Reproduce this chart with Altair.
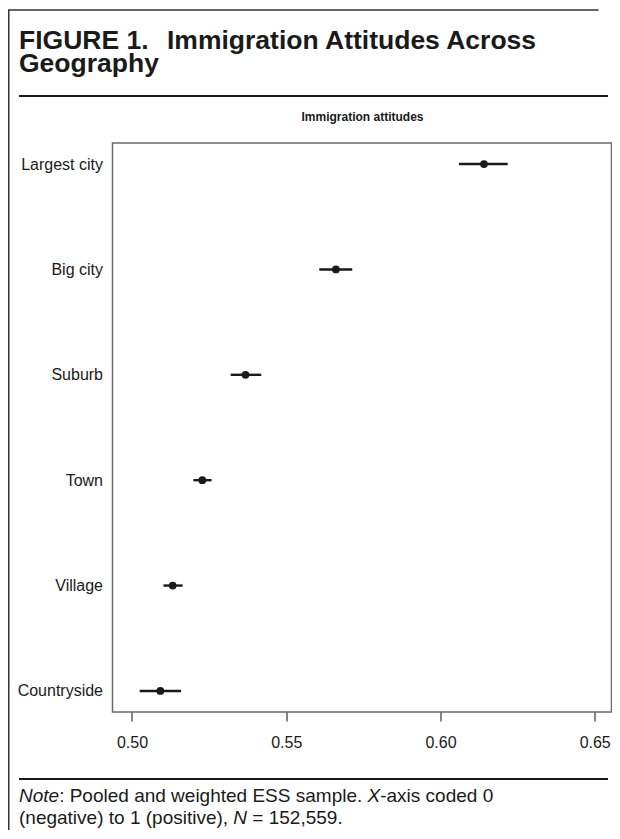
import altair as alt
import pandas as pd

# ---- data ----
categories = ["Largest city", "Big city", "Suburb", "Town", "Village", "Countryside"]
estimate = [0.6141, 0.5661, 0.5368, 0.5228, 0.5132, 0.5092]
ci_low = [0.6060, 0.5607, 0.5320, 0.5199, 0.5102, 0.5025]
ci_high = [0.6218, 0.5714, 0.5419, 0.5258, 0.5164, 0.5159]
x_ticks = [0.50, 0.55, 0.60, 0.65]

df = pd.DataFrame({"place": categories, "est": estimate, "lo": ci_low, "hi": ci_high})

FONT = "Liberation Sans"
INK = "#1a1a1a"

# Arial / Liberation Sans advance widths (1/1000 em) for placing italic runs
W = {' ': 278, '(': 333, ')': 333, ',': 278, '-': 333, '.': 278, ':': 278, '=': 584,
     '0': 556, '1': 556, '2': 556, '5': 556, '9': 556,
     'E': 667, 'N': 722, 'P': 667, 'S': 667, 'X': 667,
     'a': 556, 'c': 500, 'd': 556, 'e': 556, 'g': 556, 'h': 556, 'i': 222, 'l': 222,
     'm': 833, 'n': 556, 'o': 556, 'p': 556, 'r': 333, 's': 500, 't': 278, 'v': 500,
     'w': 722, 'x': 500, 'y': 500}


def tw(s, fs):
    return sum(W.get(c, 556) for c in s) * fs / 1000.0


xscale = alt.Scale(domain=[0.49368, 0.65545], nice=False, zero=False)
yscale = alt.Scale(type="point", padding=0.2, domain=categories)

xenc = alt.X("est:Q", scale=xscale,
             axis=alt.Axis(values=x_ticks, format=".2f", title=None, grid=False, domain=False,
                           tickSize=9, tickColor="#333", tickWidth=1.2,
                           labelFontSize=16, labelFont=FONT, labelColor=INK, labelPadding=13))
yenc = alt.Y("place:N", scale=yscale, sort=categories,
             axis=alt.Axis(title=None, ticks=False, domain=False, grid=False,
                           labelFontSize=16, labelFont=FONT, labelColor=INK, labelPadding=10))

bars = alt.Chart(df).mark_rule(color=INK, strokeWidth=2.4).encode(
    x=alt.X("lo:Q", scale=xscale), x2="hi:Q", y=yenc)
points = alt.Chart(df).mark_circle(color=INK, opacity=1, size=60).encode(x=xenc, y=yenc)


def txt(s, x, y, fs, weight="normal", style="normal", align="left"):
    return alt.Chart(pd.DataFrame({"t": [s]})).mark_text(
        font=FONT, fontSize=fs, fontWeight=weight, fontStyle=style, align=align,
        baseline="alphabetic", color=INK).encode(
        x=alt.value(x), y=alt.value(y), text="t:N")


def line(x1, x2, y1, y2, w, color=INK):
    return alt.Chart(pd.DataFrame({"a": [0]})).mark_rule(color=color, strokeWidth=w).encode(
        x=alt.value(x1), x2=alt.value(x2), y=alt.value(y1), y2=alt.value(y2))


# coordinates below are relative to the plot area origin (page x 112.5, y 143)
LX = -93.5
HF = 26.5
deco = [
    line(-103.75, -103.75, -133, 700, 1.5, "#333"),  # outer frame left
    line(-104.5, 486, -133, -133, 1.5, "#333"),      # outer frame top
    line(LX, 495.5, -47, -47, 2),                    # header rule
    line(LX, 495.5, 636, 636, 2),                    # note rule
    txt("FIGURE 1.", LX, -94, HF, weight="bold"),
    txt("Immigration Attitudes Across", 54.5, -94, HF, weight="bold"),
    txt("Geography", LX, -71, HF, weight="bold"),
    txt("Immigration attitudes", 250, -22, 12, weight="bold", align="center"),
]

NF = 19
l1 = [("Note", "italic"), (": Pooled and weighted ESS sample. ", "normal"),
      ("X", "italic"), ("-axis coded 0", "normal")]
l2 = [("(negative) to 1 (positive), ", "normal"), ("N", "italic"),
      (" = 152,559.", "normal")]
for parts, yy in ((l1, 659), (l2, 681)):
    cx = LX
    for s, st in parts:
        lead = len(s) - len(s.lstrip(" "))
        deco.append(txt(s.strip(" "), cx + lead * W[' '] * NF / 1000.0, yy, NF, style=st))
        cx += tw(s, NF)

chart = alt.layer(bars, points, *deco).properties(
    width=499, height=569,
    autosize=alt.AutoSizeParams(type="none"),
    padding={"left": 104.5, "top": 135, "right": 0.5, "bottom": 118},
    background="white",
).configure_view(stroke="#6a6a6a", strokeWidth=1.5)

chart.save("out.html", embed_options={"renderer": "svg", "actions": False})
